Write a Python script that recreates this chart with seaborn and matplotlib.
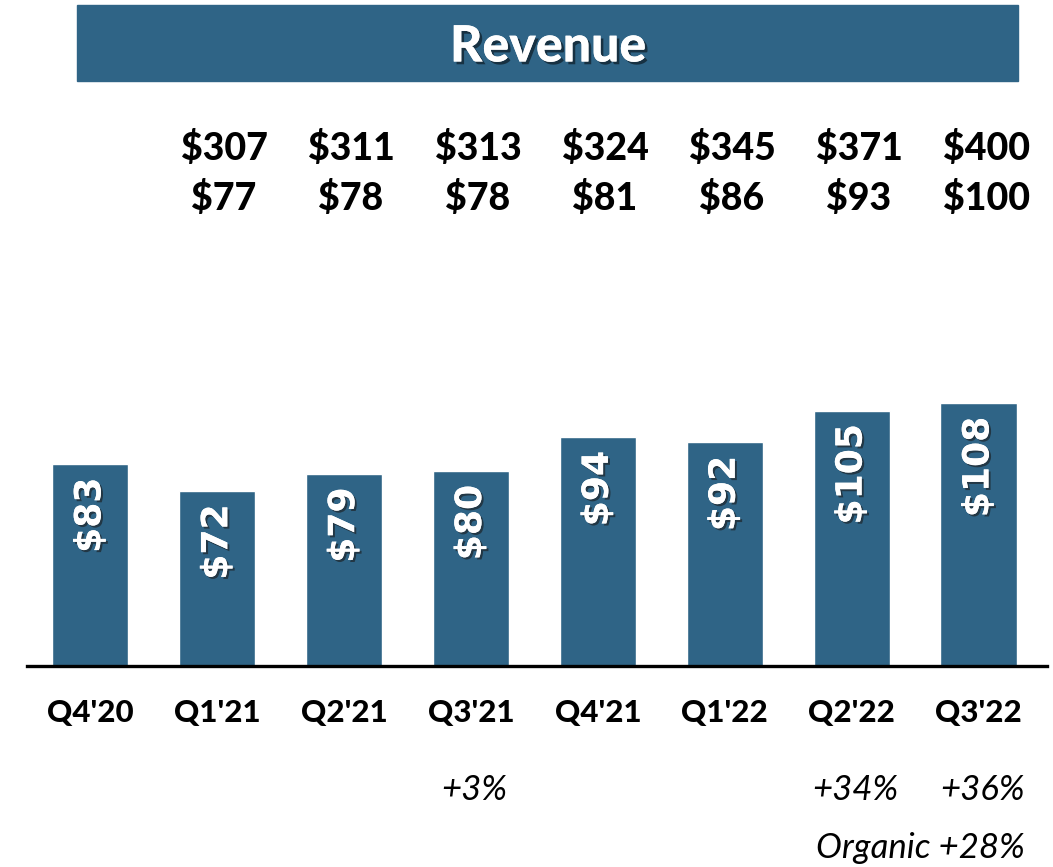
import matplotlib
matplotlib.use("Agg")
import matplotlib.pyplot as plt
import matplotlib.patheffects as pe
import seaborn as sns
import pandas as pd

# Revenue by quarter ($M)
quarters = ["Q4'20", "Q1'21", "Q2'21", "Q3'21", "Q4'21", "Q1'22", "Q2'22", "Q3'22"]
revenue = [83, 72, 79, 80, 94, 92, 105, 108]

# two rows of figures above the bars (Q1'21 .. Q3'22)
top_row_1 = ["$307", "$311", "$313", "$324", "$345", "$371", "$400"]
top_row_2 = ["$77", "$78", "$78", "$81", "$86", "$93", "$100"]

# growth notes under the axis
growth = {"Q3'21": "+3%", "Q2'22": "+34%", "Q3'22": "+36%"}
organic_note = "Organic +28%"

bar_color = "#2F6486"
font = ["Lato", "DejaVu Sans"]

df = pd.DataFrame({"Quarter": quarters, "Revenue": revenue})

sns.set_theme(style="white")
plt.rcParams["font.family"] = font

fig = plt.figure(figsize=(10.53, 8.67), dpi=100)
ax = fig.add_axes([27 / 1053, 201 / 867, 1020 / 1053, 292 / 867])

sns.barplot(data=df, x="Quarter", y="Revenue", color=bar_color,
            saturation=1, width=0.6, ax=ax)

ax.set_ylim(0, 120)
ax.set_xlim(-0.5, 7.54)
ax.set_xlabel("")
ax.set_ylabel("")
ax.set_yticks([])
for s in ["top", "right", "left"]:
    ax.spines[s].set_visible(False)
ax.spines["bottom"].set_color("black")
ax.spines["bottom"].set_linewidth(2.4)
ax.tick_params(axis="x", length=0, pad=24)
for lab in ax.get_xticklabels():
    lab.set_fontsize(22.5)
    lab.set_fontweight(900)
    lab.set_color("black")

shadow = [pe.withSimplePatchShadow(offset=(1.5, -1.5), shadow_rgbFace="#1a1a1a", alpha=0.6),
          pe.Normal()]

# values inside bars
for i, v in enumerate(revenue):
    ax.text(i, v - 5.5, f"${v}", rotation=90, ha="center", va="top",
            color="white", fontsize=26, fontweight="bold",
            family="DejaVu Sans", path_effects=shadow)

# rows above the bars (figure coords)
for i, (a, b) in enumerate(zip(top_row_1, top_row_2)):
    xf = (90 + 127 * (i + 1) + 7) / 1053
    fig.text(xf, 1 - 148 / 867, a, ha="center", va="center", fontsize=27,
             fontweight=900, color="black")
    fig.text(xf, 1 - 198 / 867, b, ha="center", va="center", fontsize=27,
             fontweight=900, color="black")

# growth notes
for q, t in growth.items():
    i = quarters.index(q)
    if q == "Q3'22":
        fig.text(1025 / 1053, 1 - 790 / 867, t, ha="right", va="center",
                 fontsize=25, style="italic", color="black")
    else:
        fig.text((90 + 127 * i + 3) / 1053, 1 - 790 / 867, t, ha="center",
                 va="center", fontsize=25, style="italic", color="black")
fig.text(1025 / 1053, 1 - 848 / 867, organic_note, ha="right", va="center",
         fontsize=25, style="italic", color="black")

# title banner
banner = plt.Rectangle((77 / 1053, 1 - 81 / 867), 941 / 1053, 76 / 867,
                       transform=fig.transFigure, color=bar_color, zorder=0)
fig.patches.append(banner)
fig.text(548 / 1053, 1 - 47 / 867, "Revenue", ha="center", va="center",
         fontsize=36, fontweight=900, color="white",
         path_effects=[pe.withSimplePatchShadow(offset=(2, -2), shadow_rgbFace="black", alpha=0.5),
                       pe.Normal()])

fig.savefig("out.png", dpi=100, facecolor="white")
